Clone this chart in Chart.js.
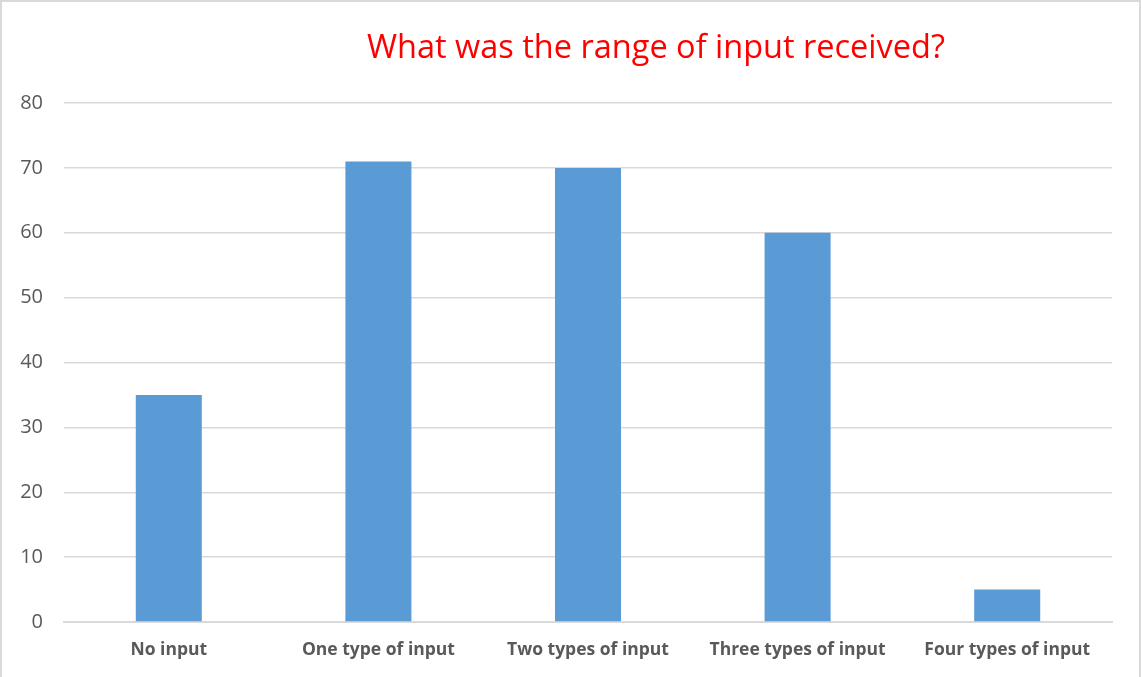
<!DOCTYPE html>
<html>
<head>
<meta charset="utf-8">
<script src="https://cdn.jsdelivr.net/npm/chart.js@4.4.0/dist/chart.umd.min.js"></script>
<style>
  html, body { margin: 0; padding: 0; background: #fff; }
  #wrap {
    position: relative;
    width: 1141px;
    height: 677px;
    box-sizing: border-box;
    border-top: 2px solid #d9d9d9;
    border-left: 2px solid #d9d9d9;
    border-right: 2px solid #d9d9d9;
  }
</style>
</head>
<body>
<div id="wrap"><canvas id="chartRange"></canvas></div>
<script>
var categories = ["No input", "One type of input", "Two types of input", "Three types of input", "Four types of input"];
var counts = [35, 71, 70, 60, 5];
var chartTitle = "What was the range of input received?";

// title sits off-centre in the original, so draw it by hand
var titlePlugin = {
    id: "offsetTitle",
    afterDraw: function (chart) {
        var ctx = chart.ctx;
        ctx.save();
        ctx.fillStyle = "#ff0000";
        ctx.font = "32.5px 'Open Sans', sans-serif";
        ctx.textAlign = "center";
        ctx.textBaseline = "middle";
        ctx.fillText(chartTitle, 654, 47);
        ctx.restore();
    }
};

var ctx = document.getElementById("chartRange").getContext("2d");

var myChart = new Chart(ctx, {
    type: "bar",
    data: {
        labels: categories,
        datasets: [
            {
                label: "Count",
                backgroundColor: "#5b9bd5",
                data: counts,
                barPercentage: 0.315,
                categoryPercentage: 1,
            },
        ],
    },
    options: {
        responsive: true,
        maintainAspectRatio: false,
        animation: false,
        layout: {
            padding: { left: 14, right: 27, top: 101, bottom: 6 },
        },
        plugins: {
            legend: { display: false },
            title: { display: false },
            tooltip: { enabled: false },
        },
        scales: {
            x: {
                grid: { display: false },
                border: { color: "#d9d9d9", width: 2 },
                ticks: {
                    color: "#595959",
                    font: { family: "'Open Sans', sans-serif", size: 17.5, weight: "bold" },
                    padding: 10,
                    maxRotation: 0,
                },
            },
            y: {
                min: 0,
                max: 80,
                border: { display: false },
                grid: { color: "#d9d9d9", lineWidth: 1.5, drawTicks: false },
                ticks: {
                    stepSize: 10,
                    color: "#595959",
                    font: { family: "'Open Sans', sans-serif", size: 20 },
                    padding: 21,
                },
                afterFit: function (scale) {
                    scale.width = 48;
                },
            },
        },
    },
    plugins: [titlePlugin],
});
</script>
</body>
</html>
